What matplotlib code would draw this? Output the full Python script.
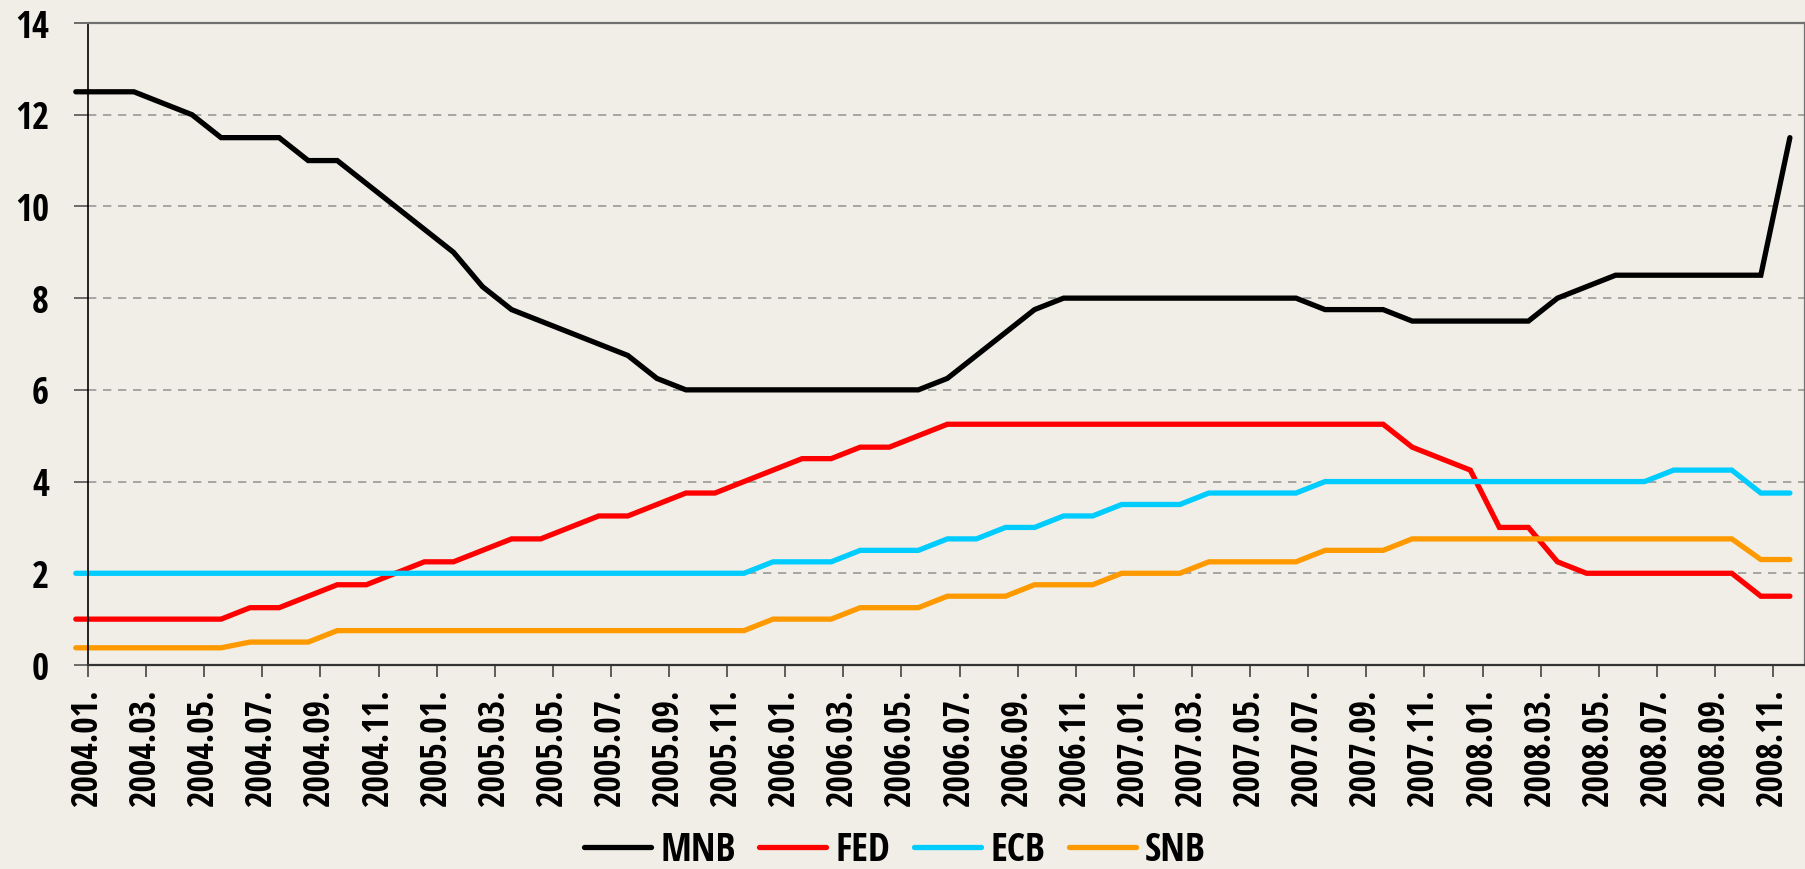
import numpy as np
import matplotlib
matplotlib.use('Agg')
import matplotlib.pyplot as plt
from matplotlib import font_manager
from matplotlib.font_manager import FontProperties
from matplotlib.textpath import TextPath
from matplotlib.transforms import ScaledTranslation

# month labels, one every second month
years = [2004, 2005, 2006, 2007, 2008]
labels = ['%d.%02d.' % (y, m) for y in years for m in range(1, 13, 2)]

mnb = [12.5, 12.5, 12.5, 12.25, 12.0, 11.5, 11.5, 11.5, 11.0, 11.0,
       10.5, 10.0, 9.5, 9.0, 8.25, 7.75, 7.5, 7.25, 7.0, 6.75,
       6.25, 6.0, 6.0, 6.0, 6.0, 6.0, 6.0, 6.0, 6.0, 6.0,
       6.25, 6.75, 7.25, 7.75, 8.0, 8.0, 8.0, 8.0, 8.0, 8.0,
       8.0, 8.0, 8.0, 7.75, 7.75, 7.75, 7.5, 7.5, 7.5, 7.5,
       7.5, 8.0, 8.25, 8.5, 8.5, 8.5, 8.5, 8.5, 8.5, 11.5]
fed = [1.0, 1.0, 1.0, 1.0, 1.0, 1.0, 1.25, 1.25, 1.5, 1.75,
       1.75, 2.0, 2.25, 2.25, 2.5, 2.75, 2.75, 3.0, 3.25, 3.25,
       3.5, 3.75, 3.75, 4.0, 4.25, 4.5, 4.5, 4.75, 4.75, 5.0,
       5.25, 5.25, 5.25, 5.25, 5.25, 5.25, 5.25, 5.25, 5.25, 5.25,
       5.25, 5.25, 5.25, 5.25, 5.25, 5.25, 4.75, 4.5, 4.25, 3.0,
       3.0, 2.25, 2.0, 2.0, 2.0, 2.0, 2.0, 2.0, 1.5, 1.5]
ecb = [2.0, 2.0, 2.0, 2.0, 2.0, 2.0, 2.0, 2.0, 2.0, 2.0,
       2.0, 2.0, 2.0, 2.0, 2.0, 2.0, 2.0, 2.0, 2.0, 2.0,
       2.0, 2.0, 2.0, 2.0, 2.25, 2.25, 2.25, 2.5, 2.5, 2.5,
       2.75, 2.75, 3.0, 3.0, 3.25, 3.25, 3.5, 3.5, 3.5, 3.75,
       3.75, 3.75, 3.75, 4.0, 4.0, 4.0, 4.0, 4.0, 4.0, 4.0,
       4.0, 4.0, 4.0, 4.0, 4.0, 4.25, 4.25, 4.25, 3.75, 3.75]
snb = [0.375, 0.375, 0.375, 0.375, 0.375, 0.375, 0.5, 0.5, 0.5, 0.75,
       0.75, 0.75, 0.75, 0.75, 0.75, 0.75, 0.75, 0.75, 0.75, 0.75,
       0.75, 0.75, 0.75, 0.75, 1.0, 1.0, 1.0, 1.25, 1.25, 1.25,
       1.5, 1.5, 1.5, 1.75, 1.75, 1.75, 2.0, 2.0, 2.0, 2.25,
       2.25, 2.25, 2.25, 2.5, 2.5, 2.5, 2.75, 2.75, 2.75, 2.75,
       2.75, 2.75, 2.75, 2.75, 2.75, 2.75, 2.75, 2.75, 2.3, 2.3]

series = [('MNB', mnb, '#000000'), ('FED', fed, '#FF0000'),
          ('ECB', ecb, '#00CCFF'), ('SNB', snb, '#FF9900')]


def has_font(name):
    try:
        font_manager.findfont(FontProperties(family=name), fallback_to_default=False)
        return True
    except ValueError:
        return False


def ink_height(s, fam):
    # glyph height in points of text s at 100 pt
    return TextPath((0, 0), s, size=100,
                    prop=FontProperties(family=fam, weight='bold')).get_extents().height


bg = '#F0EEE6'
fig = plt.figure(figsize=(18.06, 8.69), dpi=100, facecolor=bg)
renderer = fig.canvas.get_renderer()
px = 72 / fig.dpi   # points per pixel

# pick the narrowest bold face available (the original uses Arial Narrow Bold)
best = None
for fam in ['Liberation Sans Narrow', 'Roboto Condensed', 'Open Sans Condensed',
            'Liberation Sans', 'Roboto', 'Lato', 'DejaVu Sans']:
    if not has_font(fam):
        continue
    t = fig.text(0, 0, '2004.01.', family=fam, fontweight='bold', fontsize=100)
    w = t.get_window_extent(renderer).width
    t.remove()
    if best is None or w < best[1] - 1:
        best = (fam, w)
font, w100 = best
xlab_size = 100 * 118 / w100                       # label length about 118 px
ylab_size = 100 * 27 * px / ink_height('0', font)  # digits about 27 px tall
leg_size = 100 * 28 * px / ink_height('B', font)   # capitals about 28 px tall

ax = fig.add_axes([88 / 1806, 204 / 869, 1717 / 1806, 642 / 869], facecolor=bg)

x = np.arange(len(mnb))
for name, vals, col in series:
    ax.plot(x, vals, color=col, lw=3.8, label=name, clip_on=False,
            solid_capstyle='round', solid_joinstyle='miter')

ax.set_xlim(0.42, 59.52)
ax.set_ylim(0, 14)
ax.set_yticks(range(0, 15, 2))
ax.set_yticklabels([str(v) for v in range(0, 15, 2)],
                   family=font, fontweight='bold', fontsize=ylab_size)
ax.set_xticks(np.arange(0, 60, 2) + 0.42)
ax.set_xticklabels(labels, rotation=90, family=font, fontweight='bold',
                   fontsize=xlab_size)
for lab in ax.get_xticklabels():
    lab.set_transform(lab.get_transform() + ScaledTranslation(0.09, 0, fig.dpi_scale_trans))

ax.tick_params(axis='y', length=10, width=1.2, color='#555555', pad=18)
ax.tick_params(axis='x', length=8.5, width=1.2, color='#444444', pad=8.5)

for v in range(2, 14, 2):
    ax.axhline(v, color='#999999', lw=1.2, ls=(0, (5, 4)), zorder=0)

ax.spines['left'].set_color('#000000')
ax.spines['left'].set_linewidth(1.2)
ax.spines['bottom'].set_color('#333333')
ax.spines['bottom'].set_linewidth(1.6)
for s in ['top', 'right']:
    ax.spines[s].set_color('#707070')
    ax.spines[s].set_linewidth(1.6)

em = leg_size / px   # font size in pixels
leg = fig.legend(loc='center', bbox_to_anchor=(895 / 1806, 1 - 851 / 869), ncol=4,
                 frameon=False, handlelength=67 / em, handletextpad=9 / em,
                 columnspacing=24 / em,
                 prop={'family': font, 'weight': 'bold', 'size': leg_size})

fig.savefig('out.png', dpi=100, facecolor=bg)
